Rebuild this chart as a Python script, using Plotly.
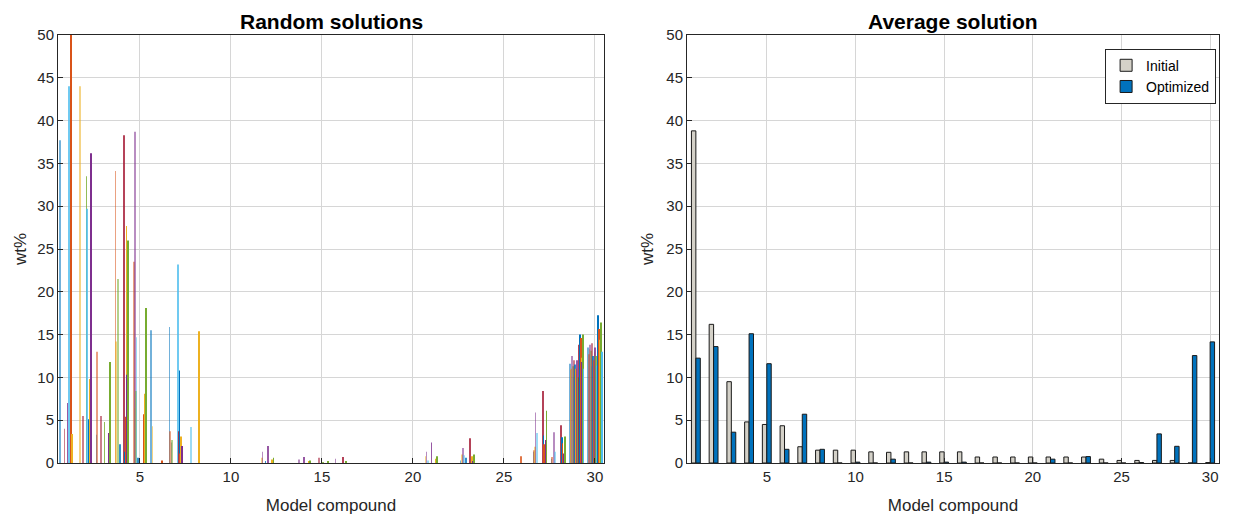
import plotly.graph_objects as go

compounds = list(range(1, 31))

# Random solutions: wt% per model compound (1..30) for each random run
run_01 = [37.7, 0, 3.3, 0, 0, 15.5, 15.9, 0, 0, 0,  0, 0, 0, 0, 0, 0, 0, 0, 0, 0,  0, 0, 0.3, 0, 0, 0, 1.3, 0.5, 11.6, 13.5]
run_02 = [0, 0, 13.0, 34.1, 23.5, 0, 3.7, 0, 0, 0,  0, 0, 0, 0, 0, 0, 0, 0, 0, 0,  0, 0, 0, 0, 0, 0, 1.5, 0.7, 10.9, 12.7]
run_03 = [0, 44.0, 0, 14.2, 6.4, 4.3, 0, 0, 0, 0,  0, 0.6, 0, 0, 0, 0, 0, 0, 0, 0,  0.8, 0, 1.0, 0, 0, 0, 1.9, 0, 11.0, 13.3]
run_04 = [0, 0, 0, 0, 38.7, 0, 2.4, 0, 0, 0,  0, 1.3, 0, 0.4, 0, 0.5, 0, 0, 0, 0,  1.3, 0, 1.75, 0, 0, 0, 5.9, 3.6, 12.5, 13.8]
run_05 = [0, 0, 0, 21.5, 8.4, 0, 2.7, 0, 0, 0,  0, 0, 0, 0, 0, 0, 0, 0, 0, 0,  0, 0, 0, 0, 0, 0, 0, 0, 11.3, 13.1]
run_06 = [0, 0, 0, 0, 14.7, 0, 0, 4.2, 0, 0,  0, 0, 0, 0, 0, 0, 0, 0, 0, 0,  0.3, 0, 0.9, 0, 0, 0, 3.5, 1.3, 10.0, 11.3]
run_07 = [4.0, 5.5, 5.5, 0, 0, 0, 0, 0, 0, 0,  0, 0, 0, 0, 0.6, 0, 0, 0, 0, 0,  0, 0, 0, 0, 0, 0, 0, 0, 12.0, 14.0]
run_08 = [0, 0, 0, 2.2, 0.6, 0, 0, 0, 0, 0,  0, 0.2, 0, 0, 0, 0, 0, 0, 0, 0,  0, 0, 0.6, 0, 0, 0, 0, 0, 11.5, 12.5]
run_09 = [0, 0, 0, 0, 0, 0, 0, 0, 0, 0,  0, 0, 0, 0, 0, 0, 0, 0, 0, 0,  0, 0, 0, 0, 0, 0.8, 0, 0, 10.9, 12.0]
run_10 = [0, 0, 0, 0, 0, 0, 0, 0, 0, 0,  0, 0, 0, 0, 0, 0, 0, 0, 0, 0,  0, 0, 0, 0, 0, 0, 0, 0, 11.0, 13.0]
run_11 = [7.0, 0, 0, 0, 0, 0, 0, 0, 0, 0,  0, 2.0, 0, 0.7, 0, 0, 0, 0, 0, 0,  2.4, 0, 0, 0, 0, 0, 0, 0, 12.0, 13.5]
run_12 = [0, 33.5, 4.8, 0, 0, 0, 0, 0, 0, 0,  0, 0, 0, 0, 0.1, 0, 0, 0, 0, 0,  0, 0, 0, 0, 0, 0, 0, 0, 10.0, 12.5]
run_13 = [44.0, 29.7, 0, 0, 0, 0, 23.2, 0, 0, 0,  0, 0, 0, 0, 0, 0, 0, 0, 0, 0,  0, 0, 0, 0, 0, 0, 0, 0, 9.5, 11.4]
run_14 = [0, 0, 0, 38.3, 0, 0, 3.7, 0, 0, 0,  0, 0, 0, 0, 0, 0.7, 0, 0, 0, 0,  0, 0, 2.9, 0, 0, 0, 8.4, 4.4, 13.8, 14.6]
run_15 = [0, 5.1, 0, 1.3, 0, 0, 10.8, 0, 0, 0,  0, 0, 0, 0, 0, 0, 0, 0, 0, 0,  0, 0, 0, 0, 0, 0, 3.2, 3.0, 15.0, 17.25]
run_16 = [52.0, 0, 0, 5.4, 5.7, 0.3, 1.1, 0, 0, 0,  0, 0, 0, 0, 0, 0, 0, 0, 0, 0,  0, 0, 0, 0, 0, 0, 2.2, 2.3, 14.6, 15.65]
run_17 = [3.4, 9.8, 0, 27.7, 8.1, 0, 3.1, 15.4, 0, 0,  0, 0.4, 0, 0.2, 0, 0, 0, 0, 0, 0,  0.5, 0, 0.8, 0, 0, 0, 0, 0, 12.3, 14.4]
run_18 = [0, 36.2, 3.5, 10.3, 16.1, 0, 2.0, 0, 0, 0,  0, 0, 0, 0, 0, 0, 0, 0, 0, 0,  0, 0, 0.2, 0, 0, 0, 2.7, 1.1, 11.8, 14.0]
run_19 = [0, 0, 11.8, 26.0, 18.1, 0, 0, 0, 0, 0,  0, 0.6, 0, 0.3, 0.2, 0.2, 0, 0, 0, 0,  0.8, 0, 1.0, 0, 0, 0, 6.1, 3.1, 15.0, 16.4]
run_20 = [0, 0, 0, 0, 0, 0, 0, 0, 0, 0,  0, 0, 0, 0, 0, 0, 0, 0, 0, 0,  0, 0, 0, 0, 0, 0, 0, 0, 11.0, 13.0]

random_runs = [run_01, run_02, run_03, run_04, run_05, run_06, run_07, run_08, run_09, run_10,
               run_11, run_12, run_13, run_14, run_15, run_16, run_17, run_18, run_19, run_20]

# Average solution
initial = [38.8, 16.2, 9.5, 4.8, 4.5, 4.35, 1.9, 1.5, 1.5, 1.5,
           1.3, 1.25, 1.3, 1.3, 1.3, 1.3, 0.7, 0.7, 0.7, 0.7,
           0.7, 0.7, 0.7, 0.45, 0.3, 0.3, 0.3, 0.3, 0.0, 0.05]
optimized = [12.25, 13.6, 3.6, 15.1, 11.6, 1.6, 5.7, 1.6, 0.0, 0.1,
             0.0, 0.45, 0.0, 0.1, 0.1, 0.1, 0.0, 0.0, 0.0, 0.0,
             0.45, 0.0, 0.75, 0.0, 0.0, 0.05, 3.4, 1.95, 12.55, 14.15]

x_ticks = [5, 10, 15, 20, 25, 30]
y_ticks = [0, 5, 10, 15, 20, 25, 30, 35, 40, 45, 50]

matlab_colors = ["#0072BD", "#D95319", "#EDB120", "#7E2F8E", "#77AC30", "#4DBEEE", "#A2142F"]
opac = [0.55, 0.8, 1.0]

fig = go.Figure()
for i, run in enumerate(random_runs):
    fig.add_trace(go.Bar(
        x=compounds, y=run, xaxis="x", yaxis="y",
        marker=dict(color=matlab_colors[i % 7], line=dict(width=0)),
        opacity=opac[(i // 7) % 3], showlegend=False, hoverinfo="skip"))

fig.add_trace(go.Bar(
    x=compounds, y=initial, name="Initial", xaxis="x2", yaxis="y2",
    offset=-0.25, width=0.25,
    marker=dict(color="#D4D1C8", line=dict(color="#1a1a1a", width=1))))
fig.add_trace(go.Bar(
    x=compounds, y=optimized, name="Optimized", xaxis="x2", yaxis="y2",
    offset=0.0, width=0.25,
    marker=dict(color="#0072BD", line=dict(color="#1a1a1a", width=1))))

# page has an 8px body margin, so the figure is shifted by 8px; compensate
W, H = 1230, 510
ml, mr, mt, mb = 50, 19, 27, 55
pw = W - ml - mr
d1 = [0, (596 - ml) / pw]
d2 = [(679 - ml) / pw, 1.0]

tick_font = dict(size=15, color="#262626")
axis_common = dict(
    showline=True, mirror=True, linecolor="#262626", linewidth=1,
    ticks="inside", ticklen=5, tickcolor="#262626",
    showgrid=True, gridcolor="#d6d6d6", gridwidth=1, zeroline=False,
    tickfont=tick_font, automargin=False)

fig.update_layout(
    width=W, height=H,
    margin=dict(l=ml, r=mr, t=mt, b=mb),
    paper_bgcolor="white", plot_bgcolor="white",
    font=dict(family="Liberation Sans, Arial, sans-serif", color="#262626"),
    barmode="group", bargap=0.2, bargroupgap=0,
    xaxis=dict(domain=d1, range=[0.5, 30.5], tickvals=x_ticks, anchor="y",
               title=dict(text="Model compound", font=dict(size=17), standoff=15), **axis_common),
    yaxis=dict(range=[0, 50], tickvals=y_ticks, anchor="x",
               title=dict(text="wt%", font=dict(size=17), standoff=6), **axis_common),
    xaxis2=dict(domain=d2, range=[0.5, 30.5], tickvals=x_ticks, anchor="y2",
                title=dict(text="Model compound", font=dict(size=17), standoff=15), **axis_common),
    yaxis2=dict(range=[0, 50], tickvals=y_ticks, anchor="x2",
                title=dict(text="wt%", font=dict(size=17), standoff=8), **axis_common),
    legend=dict(x=0.9975, xanchor="right", y=0.968, yanchor="top",
                bgcolor="white", bordercolor="#262626", borderwidth=1,
                font=dict(size=14, color="#000000"), tracegroupgap=0,
                itemwidth=30),
    annotations=[
        dict(text="<b>Random solutions</b>", x=(d1[0] + d1[1]) / 2, y=1, xref="paper", yref="paper",
             xanchor="center", yanchor="bottom", yshift=0, showarrow=False,
             font=dict(size=21, color="#000000")),
        dict(text="<b>Average solution</b>", x=(d2[0] + d2[1]) / 2, y=1, xref="paper", yref="paper",
             xanchor="center", yanchor="bottom", yshift=0, showarrow=False,
             font=dict(size=21, color="#000000")),
    ],
)

fig.write_html("out.html")
